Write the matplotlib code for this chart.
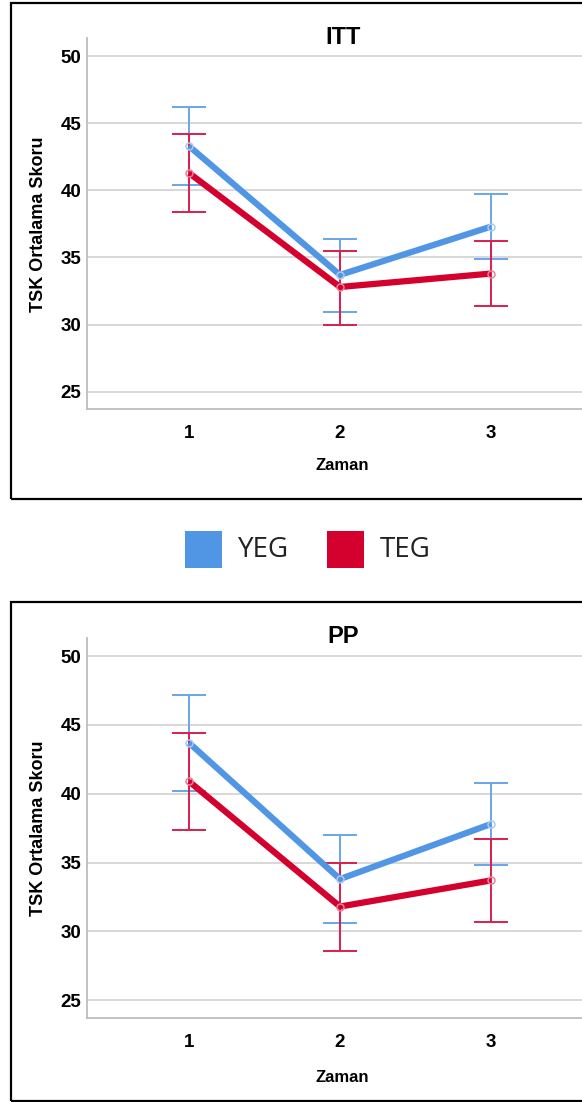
import matplotlib.pyplot as plt
from matplotlib.patches import Rectangle

# Zaman (time points)
zaman = [1, 2, 3]

# ITT panel: means and error bar limits
itt_yeg_mean = [43.3, 33.7, 37.3]
itt_yeg_low  = [40.4, 30.9, 34.9]
itt_yeg_high = [46.2, 36.4, 39.7]
itt_teg_mean = [41.3, 32.8, 33.8]
itt_teg_low  = [38.4, 30.0, 31.4]
itt_teg_high = [44.2, 35.5, 36.2]

# PP panel
pp_yeg_mean = [43.7, 33.8, 37.8]
pp_yeg_low  = [40.2, 30.6, 34.8]
pp_yeg_high = [47.2, 37.0, 40.8]
pp_teg_mean = [40.9, 31.8, 33.7]
pp_teg_low  = [37.4, 28.6, 30.7]
pp_teg_high = [44.4, 35.0, 36.7]

yticks = [25, 30, 35, 40, 45, 50]
groups = ["YEG", "TEG"]

BLUE = "#5196e5"
BLUE_ERR = "#6aa6ec"
BLUE_MK = "#a9cbf3"
RED = "#d4002e"
RED_ERR = "#dc1e4c"
RED_MK = "#ea8198"

W, H = 582, 1102
fig = plt.figure(figsize=(W / 100, H / 100), dpi=100)


def px(x, y):
    return x / W, 1 - y / H


def draw_panel(top, bottom, title, yeg, teg, frame_top, frame_bottom, zaman_y):
    # outer frame
    fx, fy = px(11, frame_bottom)
    fig.patches.append(Rectangle((fx, fy), 1.2, (frame_bottom - frame_top) / H,
                                 transform=fig.transFigure, fill=False,
                                 edgecolor="black", linewidth=1.6))
    left, b = px(86.7, bottom)
    ax = fig.add_axes([left, b, (600 - 86.7) / W, (bottom - top) / H])
    ax.set_xlim(0.3225, 3.722)
    ax.set_ylim(23.68, 51.34)
    ax.set_yticks(yticks)
    ax.set_xticks(zaman)
    ax.yaxis.grid(True, color="#d6d6d6", linewidth=1.3)
    ax.set_axisbelow(True)
    for s in ["top", "right"]:
        ax.spines[s].set_visible(False)
    for s in ["left", "bottom"]:
        ax.spines[s].set_color("#bdbdbd")
        ax.spines[s].set_linewidth(1.3)
    ax.tick_params(length=0, labelsize=13.5)
    ax.tick_params(axis="y", pad=4)
    ax.tick_params(axis="x", pad=11)
    for lab in ax.get_xticklabels() + ax.get_yticklabels():
        lab.set_fontweight("bold")
        lab.set_family("Liberation Sans")

    for (mean, low, high), ecol in [(yeg, BLUE_ERR), (teg, RED_ERR)]:
        err = [[m - l for m, l in zip(mean, low)], [h - m for m, h in zip(mean, high)]]
        ax.errorbar(zaman, mean, yerr=err, fmt="none", ecolor=ecol,
                    elinewidth=1.4, capsize=12, capthick=1.4, zorder=3)
    for (mean, low, high), col, mk in [(yeg, BLUE, BLUE_MK), (teg, RED, RED_MK)]:
        ax.plot(zaman, mean, color=col, linewidth=4.5, solid_capstyle="butt",
                zorder=4)
        ax.plot(zaman, mean, "o", markersize=5, markerfacecolor="none",
                markeredgewidth=1.1, markeredgecolor=mk, zorder=5)

    tx, ty = px(343, top - 1)
    fig.text(tx, ty, title, ha="center", va="center", fontsize=17,
             fontweight="bold", family="Liberation Sans")
    zx, zy = px(342, zaman_y)
    fig.text(zx, zy, "Zaman", ha="center", va="center", fontsize=12,
             fontweight="bold", family="Liberation Sans")
    lx, ly = px(39, (top + bottom) / 2)
    fig.text(lx, ly, "TSK Ortalama Skoru", ha="center", va="center",
             rotation=90, fontsize=13, fontweight="bold",
             family="Liberation Sans")
    return ax


draw_panel(38.3, 409.3, "ITT",
           (itt_yeg_mean, itt_yeg_low, itt_yeg_high),
           (itt_teg_mean, itt_teg_low, itt_teg_high), 3, 499, 466)
draw_panel(637.7, 1018.3, "PP",
           (pp_yeg_mean, pp_yeg_low, pp_yeg_high),
           (pp_teg_mean, pp_teg_low, pp_teg_high), 602, 1101, 1078)

# legend between panels
for name, col, sx, tx in [(groups[0], BLUE, 185, 238), (groups[1], RED, 327, 380)]:
    x0, y0 = px(sx, 568)
    fig.patches.append(Rectangle((x0, y0), 37 / W, 37 / H,
                                 transform=fig.transFigure, facecolor=col,
                                 edgecolor="none"))
    lx, ly = px(tx, 550)
    fig.text(lx, ly, name, ha="left", va="center", fontsize=20,
             family="Open Sans", color="#222222")

fig.savefig("out.png", dpi=100)
